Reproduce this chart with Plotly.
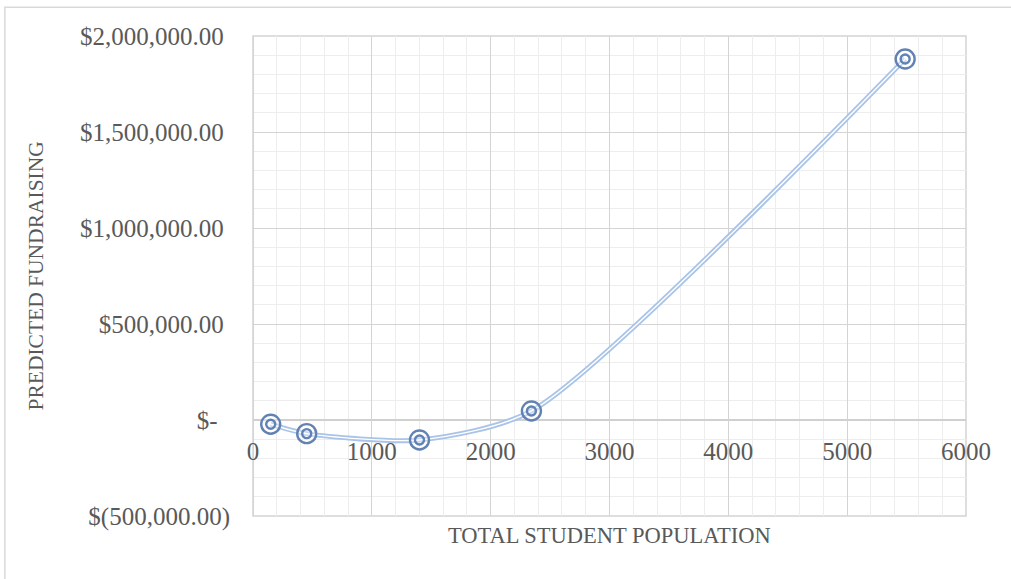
import plotly.graph_objects as go

# Enrollment vs. predicted fundraising
student_population = [149, 452, 1401, 2343, 5488]
predicted_fundraising = [-22000, -71000, -104000, 47000, 1880000]

y_tick_values = [-500000, 0, 500000, 1000000, 1500000, 2000000]
y_tick_labels = ["$(500,000.00)", "$-\u00a0\u00a0", "$500,000.00\u00a0",
                 "$1,000,000.00\u00a0", "$1,500,000.00\u00a0", "$2,000,000.00\u00a0"]
x_tick_values = [0, 1000, 2000, 3000, 4000, 5000, 6000]

FONT = "Liberation Serif"
TEXT = "#595959"
LINE_BLUE = "#A9C4E8"
MARK_BLUE = "#6282B4"
GRID_MAJOR = "#D4D4D4"
GRID_MINOR = "#EDEDED"
TICK_SIZE = 25
SMOOTH = 0.7

fig = go.Figure()

# Compound (double) smoothed line: a wide blue stroke with a thin white core
fig.add_trace(go.Scatter(
    x=student_population, y=predicted_fundraising, mode="lines",
    line=dict(color=LINE_BLUE, width=5, shape="spline", smoothing=SMOOTH),
    hoverinfo="skip", showlegend=False))
fig.add_trace(go.Scatter(
    x=student_population, y=predicted_fundraising, mode="lines",
    line=dict(color="white", width=1.4, shape="spline", smoothing=SMOOTH),
    hoverinfo="skip", showlegend=False))

# Double-ring markers
fig.add_trace(go.Scatter(
    x=student_population, y=predicted_fundraising, mode="markers",
    marker=dict(symbol="circle", size=19, color="rgba(255,255,255,0.35)",
                line=dict(color=MARK_BLUE, width=2.4)),
    showlegend=False))
fig.add_trace(go.Scatter(
    x=student_population, y=predicted_fundraising, mode="markers",
    marker=dict(symbol="circle-open", size=9, color=MARK_BLUE,
                line=dict(color=MARK_BLUE, width=2.4)),
    showlegend=False))

fig.update_layout(
    width=1011, height=579,
    margin=dict(l=253, r=45, t=36, b=63),
    paper_bgcolor="white", plot_bgcolor="white",
    font=dict(family=FONT, size=22, color=TEXT),
    xaxis=dict(
        range=[0, 6000], tickvals=x_tick_values, ticks="",
        showgrid=True, gridcolor=GRID_MAJOR, gridwidth=1.3,
        minor=dict(dtick=200, showgrid=True, gridcolor=GRID_MINOR, gridwidth=1.3),
        zeroline=True, zerolinecolor=GRID_MAJOR, zerolinewidth=1.3,
        showline=False, ticklabelstandoff=14,
        anchor="free", position=0.2,
        tickfont=dict(family=FONT, size=TICK_SIZE, color=TEXT),
    ),
    yaxis=dict(
        range=[-500000, 2000000], tickvals=y_tick_values, ticktext=y_tick_labels,
        ticks="", ticklabelstandoff=22,
        showgrid=True, gridcolor=GRID_MAJOR, gridwidth=1.3,
        minor=dict(dtick=100000, showgrid=True, gridcolor=GRID_MINOR, gridwidth=1.3),
        zeroline=True, zerolinecolor="#D0D0D0", zerolinewidth=1.6,
        showline=False,
        tickfont=dict(family=FONT, size=TICK_SIZE, color=TEXT),
    ),
    annotations=[
        dict(text="TOTAL STUDENT POPULATION", xref="paper", yref="paper",
             x=0.5, y=-0.01, xanchor="center", yanchor="top", showarrow=False,
             font=dict(family=FONT, size=22.5, color=TEXT)),
        dict(text="PREDICTED FUNDRAISING", xref="paper", yref="paper",
             x=-0.305, y=0.5, xanchor="center", yanchor="middle", textangle=-90,
             showarrow=False, font=dict(family=FONT, size=21.5, color=TEXT)),
    ],
    shapes=[
        # plot-area outline (outermost grid lines)
        dict(type="rect", xref="paper", yref="paper", x0=0, y0=0, x1=1, y1=1,
             line=dict(color=GRID_MAJOR, width=1.5), layer="below"),
        # chart-area border
        dict(type="rect", xref="paper", yref="paper",
             x0=-0.348, y0=-0.14, x1=1.1, y1=1.06,
             line=dict(color="#D9D9D9", width=1.5), layer="below"),
    ],
)

fig.write_html("out.html")
